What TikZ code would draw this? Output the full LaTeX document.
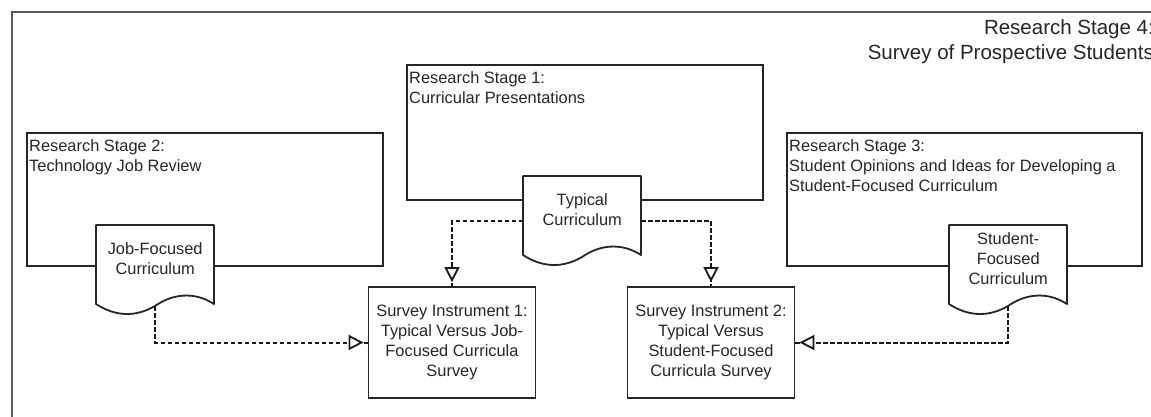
\documentclass[tikz,border=0pt]{standalone}
\usepackage{fontspec}
\setmainfont{Liberation Sans}
\usetikzlibrary{arrows.meta,calc,decorations.markings}
\pgfdeclarelayer{stages}
\pgfdeclarelayer{sheets}
\pgfsetlayers{stages,sheets,main}

\begin{document}
\begin{tikzpicture}[x=1pt,y=-1pt,
  txt/.style={font=\fontsize{16.4pt}{20pt}\selectfont, inner sep=0pt, text=black!85},
  bigtxt/.style={font=\fontsize{20.5pt}{25pt}\selectfont, inner sep=0pt, text=black!85},
  outerframe/.style={draw=black!65, line width=2.2pt, minimum width=1200pt,
    minimum height=460pt, anchor=north west, inner sep=0pt},
  stagebox/.style={draw=black!85, line width=1.8pt, anchor=north west, inner sep=0pt},
  stagelabel/.style={txt, anchor=north west, align=left},
  survey/.style={txt, draw=black!85, line width=1.8pt, minimum width=167pt,
    minimum height=111pt, align=center},
  doctext/.style={txt, align=center, minimum width=118pt, minimum height=66pt,
    anchor=north west},
  sheet/.style={draw=black!85, line width=1.8pt, fill=white, line join=round},
  sheetpath/.pic={
    \draw[sheet] (0,0) -- (118,0) -- (118,79)
      .. controls (98,66) and (76,69) .. (59,81)
      .. controls (40,92) and (20,92) .. (0,79) -- cycle;
  },
  flow/.style={draw=black!90, line width=2pt, dash pattern=on 4.5pt off 2.5pt,
    postaction={decorate},
    decoration={markings, mark=at position -4pt with
      {\arrow[solid, line width=1.8pt]{Triangle[length=15pt, width=15pt, fill=white]}}}}
]
\useasboundingbox (0,0) rectangle (1151,416);
\begin{pgfonlayer}{stages}
  \fill[white] (0,0) rectangle (1151,416);
\end{pgfonlayer}

% outer frame of stage 4 (runs past the page on the right and bottom)
\node (frame) [outerframe] at (11,11) {};
\node (st4) [bigtxt, anchor=north east, align=right] at (1154,19)
  {Research Stage 4:\\Survey of Prospective Students};

% stage boxes
\begin{pgfonlayer}{stages}
  \node (st2) [stagebox, minimum width=356pt, minimum height=133pt] at (26,132) {};
  \node (st1) [stagebox, minimum width=356pt, minimum height=135pt] at (406,64) {};
  \node (st3) [stagebox, minimum width=355pt, minimum height=133pt] at (786,132) {};
\end{pgfonlayer}
\node (st2lbl) [stagelabel] at ($(st2.north west)+(3,7)$)
  {Research Stage 2:\\Technology Job Review};
\node (st1lbl) [stagelabel] at ($(st1.north west)+(3,7)$)
  {Research Stage 1:\\Curricular Presentations};
\node (st3lbl) [stagelabel] at ($(st3.north west)+(3,7)$)
  {Research Stage 3:\\Student Opinions and Ideas for Developing a\\Student-Focused Curriculum};

% curriculum documents
\node (jobdoc) [doctext] at (96,225) {Job-Focused\\Curriculum};
\node (typdoc) [doctext] at (523,176) {Typical\\Curriculum};
\node (studoc) [doctext] at (949,225) {Student-\\Focused\\Curriculum};
\begin{pgfonlayer}{sheets}
  \pic at (jobdoc.north west) {sheetpath};
  \pic at (typdoc.north west) {sheetpath};
  \pic at (studoc.north west) {sheetpath};
\end{pgfonlayer}

% survey instruments
\node (s1) [survey] at (452,342.5)
  {Survey Instrument 1:\\Typical Versus Job-\\Focused Curricula\\Survey};
\node (s2) [survey] at (711,342.5)
  {Survey Instrument 2:\\Typical Versus\\Student-Focused\\Curricula Survey};

% flows
\draw[flow] ($(jobdoc.north west)+(59,81)$) |- (s1.west);
\draw[flow] ($(typdoc.north west)+(0,45)$) -| (s1.north);
\draw[flow] ($(typdoc.north east)+(0,45)$) -| (s2.north);
\draw[flow] ($(studoc.north west)+(59,81)$) |- (s2.east);
\end{tikzpicture}
\end{document}
